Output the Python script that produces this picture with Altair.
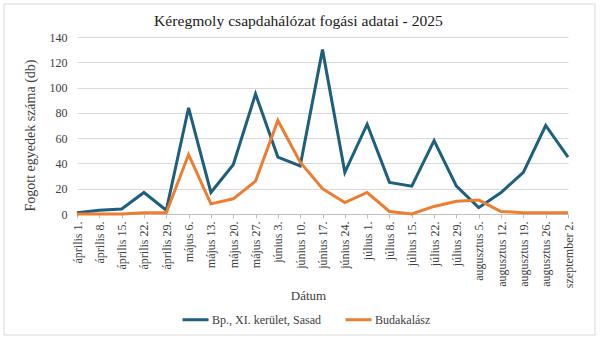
import altair as alt
import pandas as pd

dates = ["április 1.", "április 8.", "április 15.", "április 22.", "április 29.",
         "május 6.", "május 13.", "május 20.", "május 27.", "június 3.",
         "június 10.", "június 17.", "június 24.", "július 1.", "július 8.",
         "július 15.", "július 22.", "július 29.", "augusztus 5.", "augusztus 12.",
         "augusztus 19.", "augusztus 26.", "szeptember 2."]
sasad = [1, 3, 4, 17, 3, 84, 17, 39, 95, 45, 38, 130, 33, 71, 25, 22, 58, 22, 5, 17, 33, 70, 45]
budakalasz = [0, 0, 0, 1, 1, 47, 8, 12, 26, 74, 41, 20, 9, 17, 2, 0, 6, 10, 11, 2, 1, 1, 1]
series_names = ["Bp., XI. kerület, Sasad", "Budakalász"]
colors = ["#1d5f7e", "#ed7d31"]

rows = []
for name, vals in zip(series_names, [sasad, budakalasz]):
    for d, v in zip(dates, vals):
        rows.append({"Dátum": d, "Érték": v, "Sorozat": name})
df = pd.DataFrame(rows)

FONT = "Liberation Serif"

border = alt.Chart(pd.DataFrame({"a": [0]})).mark_rect(
    fill="white", fillOpacity=0, stroke="#d9d9d9", strokeWidth=1
).encode(
    x=alt.value(-73), x2=alt.value(518), y=alt.value(-33), y2=alt.value(298)
)

lines = alt.Chart(df).mark_line(strokeWidth=3, strokeJoin="miter").encode(
    x=alt.X("Dátum:N", sort=dates, scale=alt.Scale(type="point", padding=0),
            axis=alt.Axis(title="Dátum", labelAngle=-90, labelAlign="right",
                          labelBaseline="middle", labelFontSize=12, labelFont=FONT,
                          labelColor="#404040", labelPadding=3, tickSize=4,
                          tickColor="#bfbfbf", domainColor="#bfbfbf",
                          titleFont=FONT, titleFontSize=13, titleFontWeight="normal",
                          titleColor="#404040", titleX=231, titleY=81,
                          titleBaseline="middle", titleAlign="center", grid=False)),
    y=alt.Y("Érték:Q", scale=alt.Scale(domain=[0, 140]),
            axis=alt.Axis(title="Fogott egyedek száma (db)", values=[0, 20, 40, 60, 80, 100, 120, 140],
                          labelFontSize=12, labelFont=FONT, labelColor="#404040",
                          labelPadding=10, ticks=False, domain=False,
                          gridColor="#d9d9d9", gridWidth=1,
                          titleFont=FONT, titleFontSize=14, titleFontWeight="normal",
                          titleColor="#404040", titleX=-47, titleY=98, titleAngle=-90,
                          titleAlign="center", titleBaseline="middle")),
    color=alt.Color("Sorozat:N", scale=alt.Scale(domain=series_names, range=colors),
                    legend=alt.Legend(orient="none", legendX=104, legendY=268,
                                      direction="horizontal", title=None,
                                      symbolType="stroke", symbolSize=676,
                                      symbolStrokeWidth=3, labelOffset=2,
                                      columnPadding=18, labelFontSize=12,
                                      labelFont=FONT, labelColor="#404040", padding=0)),
)

chart = alt.layer(border, lines).properties(
    width=491, height=177,
    title=alt.TitleParams("Kéregmoly csapdahálózat fogási adatai - 2025",
                          font=FONT, fontSize=15.6, fontWeight="normal", color="#1a1a1a",
                          anchor="middle", frame="group", dx=-24, offset=-26),
    autosize=alt.AutoSizeParams(type="none"),
    padding={"left": 77, "top": 37, "right": 32, "bottom": 128},
).configure(background="white", font=FONT).configure_view(stroke=None).configure_axis(
    labelFont=FONT, titleFont=FONT
).configure_legend(labelFont=FONT).configure_title(font=FONT)

chart.save("out.html", embed_options={"renderer": "svg", "actions": False})
